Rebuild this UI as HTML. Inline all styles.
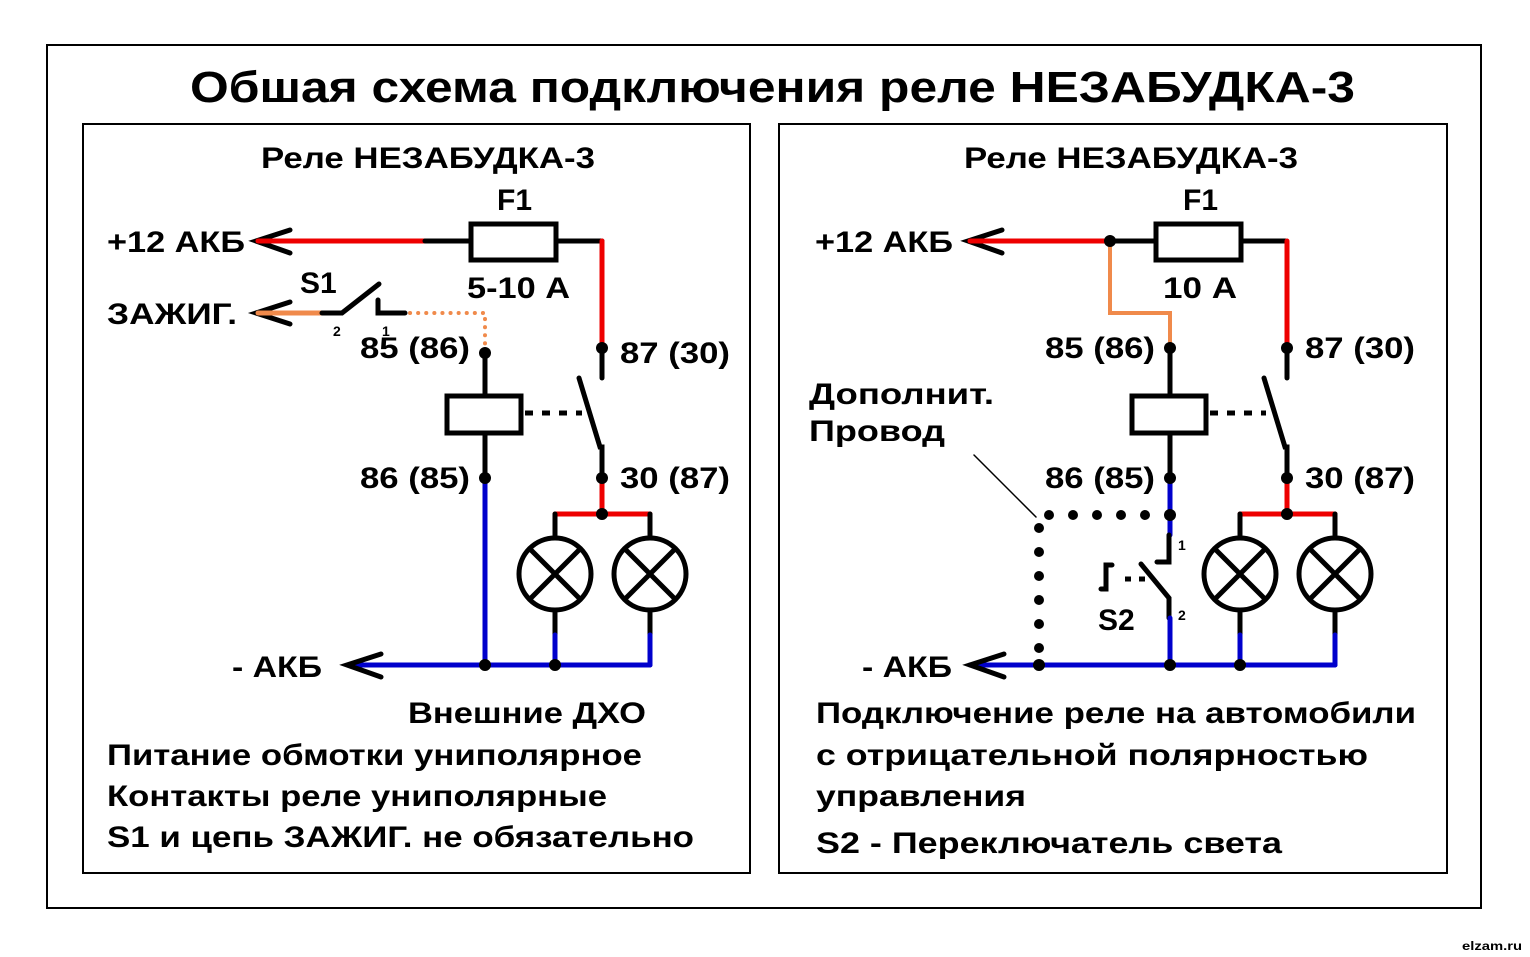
<!DOCTYPE html>
<html><head><meta charset="utf-8"><style>
html,body{margin:0;padding:0;background:#fff}
svg{display:block}
text{font-family:"Liberation Sans",Arial,sans-serif;font-weight:bold;fill:#000}
</style></head><body>
<svg width="1530" height="957" viewBox="0 0 1530 957" xmlns="http://www.w3.org/2000/svg">
<rect x="0" y="0" width="1530" height="957" fill="#fff"/>
<rect x="47" y="45" width="1434" height="863" fill="none" stroke="#000" stroke-width="2"/>
<rect x="83" y="124" width="667" height="749" fill="none" stroke="#000" stroke-width="2"/>
<rect x="779" y="124" width="668" height="749" fill="none" stroke="#000" stroke-width="2"/>
<text x="190" y="102" font-size="44" textLength="1165" lengthAdjust="spacingAndGlyphs">Обшая схема подключения реле НЕЗАБУДКА-3</text>
<text x="1462" y="950" font-size="12" textLength="60" lengthAdjust="spacingAndGlyphs">elzam.ru</text>

<g stroke-linecap="round" fill="none">
<!-- LEFT -->
<polyline points="290,230 256,241 290,253" stroke="#000" stroke-width="5"/>
<line x1="258" y1="241" x2="425" y2="241" stroke="#e00" stroke-width="5"/>
<line x1="425" y1="241" x2="602" y2="241" stroke="#000" stroke-width="5"/>
<rect x="471" y="224" width="85" height="36" fill="#fff" stroke="#000" stroke-width="5"/>
<line x1="602" y1="241" x2="602" y2="350" stroke="#e00" stroke-width="5"/>
<line x1="602" y1="350" x2="602" y2="378" stroke="#000" stroke-width="5"/>
<polyline points="579,378 600,447 602,447 602,480" stroke="#000" stroke-width="5"/>
<line x1="602" y1="480" x2="602" y2="514" stroke="#e00" stroke-width="5"/>
<line x1="555" y1="514" x2="650" y2="514" stroke="#e00" stroke-width="5"/>
<line x1="555" y1="514" x2="555" y2="538" stroke="#000" stroke-width="5"/>
<line x1="650" y1="514" x2="650" y2="538" stroke="#000" stroke-width="5"/>
<line x1="555" y1="610" x2="555" y2="635" stroke="#000" stroke-width="5"/>
<line x1="650" y1="610" x2="650" y2="635" stroke="#000" stroke-width="5"/>
<line x1="555" y1="635" x2="555" y2="665" stroke="#00c" stroke-width="5"/>
<line x1="650" y1="635" x2="650" y2="665" stroke="#00c" stroke-width="5"/>
<circle cx="555" cy="574" r="36" stroke="#000" stroke-width="5"/>
<circle cx="650" cy="574" r="36" stroke="#000" stroke-width="5"/>
<path d="M530,549 L580,599 M580,549 L530,599 M625,549 L675,599 M675,549 L625,599" stroke="#000" stroke-width="5"/>
<line x1="485" y1="353" x2="485" y2="396" stroke="#000" stroke-width="5"/>
<rect x="447" y="396" width="74" height="37" fill="#fff" stroke="#000" stroke-width="5"/>
<line x1="485" y1="433" x2="485" y2="478" stroke="#000" stroke-width="5"/>
<line x1="485" y1="478" x2="485" y2="665" stroke="#00c" stroke-width="5"/>
<line x1="525" y1="413" x2="582" y2="413" stroke="#000" stroke-width="5" stroke-dasharray="8 9" stroke-linecap="butt"/>
<line x1="348" y1="665" x2="650" y2="665" stroke="#00c" stroke-width="5"/>
<polyline points="381,654 347,665 381,677" stroke="#000" stroke-width="5"/>
<polyline points="290,302 256,313 290,324" stroke="#000" stroke-width="5"/>
<line x1="258" y1="313" x2="322" y2="313" stroke="#f08a4b" stroke-width="5"/>
<polyline points="322,313 342,313 379,284" stroke="#000" stroke-width="5"/>
<polyline points="378,300 378,313 405,313" stroke="#000" stroke-width="5"/>
<polyline points="410,313 485,313 485,345" stroke="#f08a4b" stroke-width="4" stroke-dasharray="0.1 8"/>
<!-- RIGHT -->
<polyline points="1002,230 968,241 1002,253" stroke="#000" stroke-width="5"/>
<line x1="970" y1="241" x2="1110" y2="241" stroke="#e00" stroke-width="5"/>
<line x1="1110" y1="241" x2="1285" y2="241" stroke="#000" stroke-width="5"/>
<rect x="1156" y="224" width="85" height="36" fill="#fff" stroke="#000" stroke-width="5"/>
<polyline points="1110,241 1110,313 1170,313 1170,348" stroke="#f08a4b" stroke-width="4"/>
<line x1="1287" y1="241" x2="1287" y2="350" stroke="#e00" stroke-width="5"/>
<line x1="1287" y1="350" x2="1287" y2="378" stroke="#000" stroke-width="5"/>
<polyline points="1264,378 1285,447 1287,447 1287,480" stroke="#000" stroke-width="5"/>
<line x1="1287" y1="480" x2="1287" y2="514" stroke="#e00" stroke-width="5"/>
<line x1="1240" y1="514" x2="1335" y2="514" stroke="#e00" stroke-width="5"/>
<line x1="1240" y1="514" x2="1240" y2="538" stroke="#000" stroke-width="5"/>
<line x1="1335" y1="514" x2="1335" y2="538" stroke="#000" stroke-width="5"/>
<line x1="1240" y1="610" x2="1240" y2="635" stroke="#000" stroke-width="5"/>
<line x1="1335" y1="610" x2="1335" y2="635" stroke="#000" stroke-width="5"/>
<line x1="1240" y1="635" x2="1240" y2="665" stroke="#00c" stroke-width="5"/>
<line x1="1335" y1="635" x2="1335" y2="665" stroke="#00c" stroke-width="5"/>
<circle cx="1240" cy="574" r="36" stroke="#000" stroke-width="5"/>
<circle cx="1335" cy="574" r="36" stroke="#000" stroke-width="5"/>
<path d="M1215,549 L1265,599 M1265,549 L1215,599 M1310,549 L1360,599 M1360,549 L1310,599" stroke="#000" stroke-width="5"/>
<line x1="1170" y1="348" x2="1170" y2="396" stroke="#000" stroke-width="5"/>
<rect x="1132" y="396" width="74" height="37" fill="#fff" stroke="#000" stroke-width="5"/>
<line x1="1170" y1="433" x2="1170" y2="478" stroke="#000" stroke-width="5"/>
<line x1="1170" y1="478" x2="1170" y2="535" stroke="#00c" stroke-width="5"/>
<polyline points="1169,535 1169,562 1157,562" stroke="#000" stroke-width="5"/>
<polyline points="1141,564 1169,598 1169,618" stroke="#000" stroke-width="5"/>
<line x1="1170" y1="618" x2="1170" y2="665" stroke="#00c" stroke-width="5"/>
<path d="M1112,565 L1106,565 L1106,589 L1101,589" stroke="#000" stroke-width="5"/>
<line x1="1125" y1="579" x2="1148" y2="579" stroke="#000" stroke-width="5" stroke-dasharray="6 8" stroke-linecap="butt"/>
<line x1="1210" y1="413" x2="1266" y2="413" stroke="#000" stroke-width="5" stroke-dasharray="8 9" stroke-linecap="butt"/>
<line x1="970" y1="665" x2="1335" y2="665" stroke="#00c" stroke-width="5"/>
<polyline points="1004,654 970,665 1004,677" stroke="#000" stroke-width="5"/>
<line x1="974" y1="455" x2="1036" y2="517" stroke="#000" stroke-width="1.5"/>
</g>
<g fill="#000">
<circle cx="602" cy="348" r="6"/><circle cx="602" cy="478" r="6"/><circle cx="602" cy="514" r="6"/>
<circle cx="485" cy="353" r="6"/><circle cx="485" cy="478" r="6"/><circle cx="485" cy="665" r="6"/><circle cx="555" cy="665" r="6"/>
<circle cx="1110" cy="241" r="6"/><circle cx="1170" cy="348" r="6"/><circle cx="1170" cy="478" r="6"/><circle cx="1170" cy="515" r="6"/>
<circle cx="1287" cy="348" r="6"/><circle cx="1287" cy="478" r="6"/><circle cx="1287" cy="514" r="6"/>
<circle cx="1039" cy="665" r="6"/><circle cx="1170" cy="665" r="6"/><circle cx="1240" cy="665" r="6"/>
<circle cx="1049" cy="515" r="5"/><circle cx="1073" cy="515" r="5"/><circle cx="1097" cy="515" r="5"/><circle cx="1121" cy="515" r="5"/><circle cx="1145" cy="515" r="5"/>
<circle cx="1039" cy="528" r="5"/><circle cx="1039" cy="552" r="5"/><circle cx="1039" cy="576" r="5"/><circle cx="1039" cy="600" r="5"/><circle cx="1039" cy="624" r="5"/><circle cx="1039" cy="648" r="5"/>
</g>
<g font-size="30">
<text x="261" y="168" textLength="334" lengthAdjust="spacingAndGlyphs">Реле НЕЗАБУДКА-3</text>
<text x="497" y="210">F1</text>
<text x="107" y="252" textLength="138" lengthAdjust="spacingAndGlyphs">+12 АКБ</text>
<text x="107" y="324" textLength="130" lengthAdjust="spacingAndGlyphs">ЗАЖИГ.</text>
<text x="300" y="293">S1</text>
<text x="467" y="298" textLength="103" lengthAdjust="spacingAndGlyphs">5-10 А</text>
<text x="360" y="358" textLength="110" lengthAdjust="spacingAndGlyphs">85 (86)</text>
<text x="620" y="363" textLength="110" lengthAdjust="spacingAndGlyphs">87 (30)</text>
<text x="360" y="488" textLength="110" lengthAdjust="spacingAndGlyphs">86 (85)</text>
<text x="620" y="488" textLength="110" lengthAdjust="spacingAndGlyphs">30 (87)</text>
<text x="232" y="677" textLength="90" lengthAdjust="spacingAndGlyphs">- АКБ</text>
<text x="408" y="723" textLength="238" lengthAdjust="spacingAndGlyphs">Внешние ДХО</text>
<text x="107" y="765" textLength="535" lengthAdjust="spacingAndGlyphs">Питание обмотки униполярное</text>
<text x="107" y="806" textLength="500" lengthAdjust="spacingAndGlyphs">Контакты реле униполярные</text>
<text x="107" y="847" textLength="587" lengthAdjust="spacingAndGlyphs">S1 и цепь ЗАЖИГ. не обязательно</text>

<text x="964" y="168" textLength="334" lengthAdjust="spacingAndGlyphs">Реле НЕЗАБУДКА-3</text>
<text x="1183" y="210">F1</text>
<text x="815" y="252" textLength="138" lengthAdjust="spacingAndGlyphs">+12 АКБ</text>
<text x="1163" y="298" textLength="74" lengthAdjust="spacingAndGlyphs">10 А</text>
<text x="1045" y="358" textLength="110" lengthAdjust="spacingAndGlyphs">85 (86)</text>
<text x="1305" y="358" textLength="110" lengthAdjust="spacingAndGlyphs">87 (30)</text>
<text x="1045" y="488" textLength="110" lengthAdjust="spacingAndGlyphs">86 (85)</text>
<text x="1305" y="488" textLength="110" lengthAdjust="spacingAndGlyphs">30 (87)</text>
<text x="809" y="404" textLength="185" lengthAdjust="spacingAndGlyphs">Дополнит.</text>
<text x="809" y="441" textLength="136" lengthAdjust="spacingAndGlyphs">Провод</text>
<text x="1098" y="630">S2</text>
<text x="862" y="677" textLength="90" lengthAdjust="spacingAndGlyphs">- АКБ</text>
<text x="816" y="723" textLength="600" lengthAdjust="spacingAndGlyphs">Подключение реле на автомобили</text>
<text x="816" y="765" textLength="552" lengthAdjust="spacingAndGlyphs">с отрицательной полярностью</text>
<text x="816" y="806" textLength="210" lengthAdjust="spacingAndGlyphs">управления</text>
<text x="816" y="853" textLength="466" lengthAdjust="spacingAndGlyphs">S2  - Переключатель света</text>
</g>
<g font-size="14">
<text x="333" y="336">2</text><text x="382" y="336">1</text>
<text x="1178" y="550">1</text><text x="1178" y="620">2</text>
</g>
</svg>
</body></html>
